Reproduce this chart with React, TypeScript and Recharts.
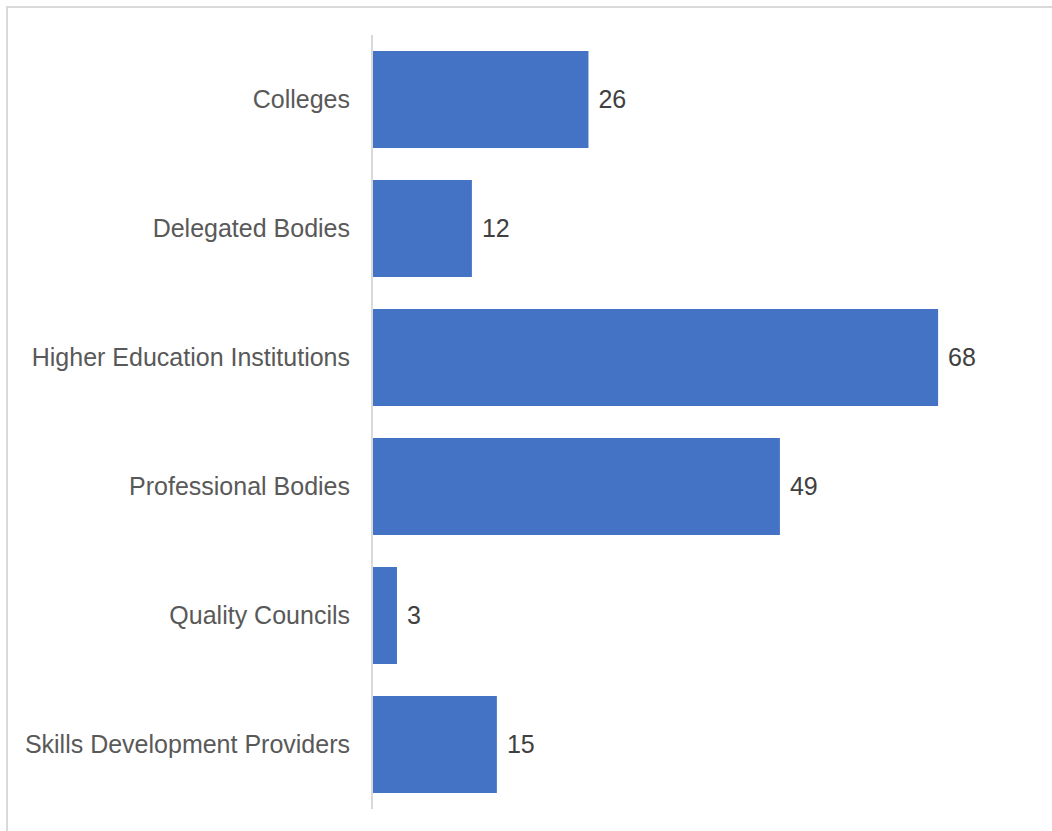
import { BarChart, Bar, XAxis, YAxis, LabelList } from 'recharts';

const categories = [
  'Colleges',
  'Delegated Bodies',
  'Higher Education Institutions',
  'Professional Bodies',
  'Quality Councils',
  'Skills Development Providers',
];
const counts = [26, 12, 68, 49, 3, 15];

const data = categories.map((name, i) => ({ name, count: counts[i] }));

export default function App() {
  return (
    <div style={{ position: 'absolute', left: 0, top: 0, width: 1052, height: 831, background: '#fff', overflow: 'hidden' }}>
      {/* frame: only top and left edges are visible in the source */}
      <div
        style={{
          position: 'absolute',
          left: 6,
          top: 6,
          width: 1100,
          height: 900,
          borderTop: '2px solid #d9d9d9',
          borderLeft: '2px solid #d9d9d9',
        }}
      />
      <div style={{ position: 'absolute', left: 0, top: 0 }}>
        <BarChart
          width={1052}
          height={831}
          data={data}
          layout="vertical"
          barCategoryGap={16}
          margin={{ top: 35, right: 14, bottom: 22, left: 0 }}
          style={{ fontFamily: '"Liberation Sans", Arial, sans-serif' }}
        >
          <XAxis type="number" domain={[0, 80]} hide />
          <YAxis
            type="category"
            dataKey="name"
            width={372}
            axisLine={{ stroke: '#d9d9d9', strokeWidth: 2 }}
            tickLine={false}
            tickSize={0}
            tickMargin={22}
            tick={{ fill: '#595959', fontSize: 25 }}
            interval={0}
          />
          <Bar dataKey="count" fill="#4472c4" isAnimationActive={false}>
            <LabelList dataKey="count" position="right" offset={10} fill="#404040" fontSize={25} />
          </Bar>
        </BarChart>
      </div>
    </div>
  );
}
